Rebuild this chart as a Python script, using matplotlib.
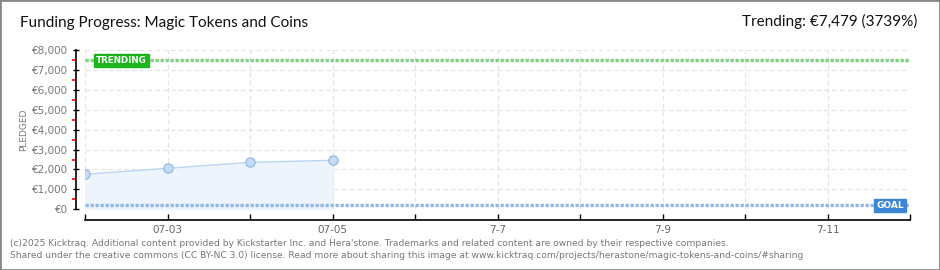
import matplotlib
matplotlib.use("Agg")
from matplotlib import pyplot as plt
from matplotlib.patches import Rectangle

# data
days = [0, 1, 2, 3]            # days since 07-02
pledged = [1760, 2060, 2360, 2460]
tick_days = list(range(11))
tick_labels = ["", "07-03", "", "07-05", "", "7-7", "", "7-9", "", "7-11", ""]
trending = 7479
goal = 200

fig = plt.figure(figsize=(9.4, 2.7), dpi=100)
ax = fig.add_axes([85/940, 60.7/270, 825/940, 159.3/270])

grey = "#777777"
ax.set_xlim(0, 10)
ax.set_ylim(0, 8000)

# grid
for y in range(0, 8001, 1000):
    ax.axhline(y, color="#e2e2e2", lw=0.8, ls=(0, (4, 3)), zorder=0)
for d in tick_days:
    ax.axvline(d, color="#e2e2e2", lw=0.8, ls=(0, (4, 3)), zorder=0)

# pledged line + fill
ax.fill_between(days, pledged, 0, color="#edf4fc", zorder=1)
ax.plot(days, pledged, color="#bcd6f2", lw=1, zorder=2)
ax.plot([days[-1], days[-1]], [0, pledged[-1]], color="#e2ecf8", lw=0.8, zorder=1)
ax.scatter(days, pledged, s=45, color="#c4dcf6", edgecolors="#8fb4e0", linewidths=0.8, zorder=3)

# trending and goal lines
ax.axhline(trending, color="#7fd27f", lw=2.4, ls=(0, (1.0, 0.5)), zorder=2)
ax.axhline(goal, color="#94b8e4", lw=2.4, ls=(0, (1.0, 0.5)), zorder=2)

ax.text(0.13, trending, "TRENDING", color="white", fontsize=6.3, fontweight="bold",
        va="center", ha="left", zorder=5,
        bbox=dict(boxstyle="square,pad=0.25", fc="#1cb51c", ec="#1cb51c"))
ax.text(9.93, goal, "GOAL", color="white", fontsize=6.5, fontweight="bold",
        va="center", ha="right", zorder=5,
        bbox=dict(boxstyle="square,pad=0.25", fc="#3b87d6", ec="#3b87d6"))

# axes styling
for s in ["top", "right"]:
    ax.spines[s].set_visible(False)
ax.spines["left"].set_position(("outward", 6.5))
ax.spines["bottom"].set_position(("outward", 7.5))
ax.spines["left"].set_linewidth(1.2)
ax.spines["bottom"].set_linewidth(1.2)

ax.set_yticks(range(0, 8001, 1000))
ax.set_yticklabels(["€0"] + ["€{:,}".format(v) for v in range(1000, 8001, 1000)])
ax.set_yticks(range(500, 8000, 1000), minor=True)
ax.tick_params(axis="y", which="major", direction="inout", length=5, width=1, colors="black",
               labelcolor=grey, labelsize=7.5, pad=3)
ax.tick_params(axis="y", which="minor", direction="out", length=3, width=1.2, color="red")

ax.set_xticks(tick_days)
ax.set_xticklabels(tick_labels)
ax.tick_params(axis="x", direction="in", length=4, width=1, colors="black",
               labelcolor="#666666", labelsize=7.5, pad=4)

ax.set_ylabel("PLEDGED", color=grey, fontsize=6.5, labelpad=3)

# titles and footer
fig.text(20/940, 1 - 23/270, "Funding Progress: Magic Tokens and Coins", fontsize=11,
         family="Lato", color="#111111", va="center", ha="left")
fig.text(917/940, 1 - 21/270, "Trending: €7,479 (3739%)", fontsize=11,
         family="Lato", color="#111111", va="center", ha="right")
fig.text(10/940, 1 - 243/270,
         "(c)2025 Kicktraq. Additional content provided by Kickstarter Inc. and Hera'stone. Trademarks and related content are owned by their respective companies.",
         fontsize=6.6, color="#777777", va="center", ha="left")
fig.text(10/940, 1 - 256/270,
         "Shared under the creative commons (CC BY-NC 3.0) license. Read more about sharing this image at www.kicktraq.com/projects/herastone/magic-tokens-and-coins/#sharing",
         fontsize=6.6, color="#777777", va="center", ha="left")

# border
fig.patches.append(Rectangle((0, 0), 1, 1, transform=fig.transFigure, fill=False,
                             ec="#888888", lw=2))

fig.savefig("out.png", dpi=100)
